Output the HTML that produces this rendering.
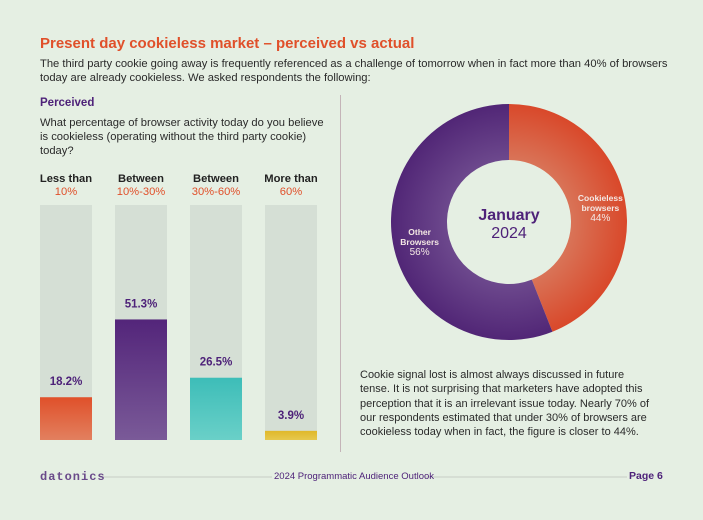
<!DOCTYPE html>
<html><head><meta charset="utf-8"><style>
body{margin:0;width:703px;height:520px;background:#e5efe3;font-family:"Liberation Sans",sans-serif;position:relative;overflow:hidden}
.a{position:absolute}
</style></head><body>
<div class="a" style="left:40px;top:35px;font-size:15px;font-weight:bold;color:#e0502a">Present day cookieless market – perceived vs actual</div>
<div class="a" style="left:40px;top:57px;width:640px;font-size:11.2px;line-height:14px;color:#2a2a2a">The third party cookie going away is frequently referenced as a challenge of tomorrow when in fact more than 40% of browsers<br>today are already cookieless. We asked respondents the following:</div>
<div class="a" style="left:40px;top:97px;font-size:11.5px;font-weight:bold;color:#4e2279">Perceived</div>
<div class="a" style="left:40px;top:116px;width:290px;font-size:11.2px;line-height:14px;color:#2a2a2a">What percentage of browser activity today do you believe is cookieless (operating without the third party cookie) today?</div>
<div class="a" style="left:340px;top:95px;width:1px;height:357px;background:#c4b4b8"></div>
<svg class="a" style="left:0;top:0" width="703" height="520" id="chart">
<defs>
<linearGradient id="g0" x1="0" y1="0" x2="0" y2="1"><stop offset="0" stop-color="#e0502a"/><stop offset="1" stop-color="#e2805f"/></linearGradient>
<linearGradient id="g1" x1="0" y1="0" x2="0" y2="1"><stop offset="0" stop-color="#53257a"/><stop offset="1" stop-color="#7a5a98"/></linearGradient>
<linearGradient id="g2" x1="0" y1="0" x2="0" y2="1"><stop offset="0" stop-color="#3dbdb8"/><stop offset="1" stop-color="#6ad0c8"/></linearGradient>
<linearGradient id="g3" x1="0" y1="0" x2="0" y2="1"><stop offset="0" stop-color="#e0b82a"/><stop offset="1" stop-color="#e6c84e"/></linearGradient>
<radialGradient id="rO" cx="509" cy="222" r="118" gradientUnits="userSpaceOnUse"><stop offset="0.5" stop-color="#d9765a"/><stop offset="1" stop-color="#d9482a"/></radialGradient>
<radialGradient id="rP" cx="509" cy="222" r="118" gradientUnits="userSpaceOnUse"><stop offset="0.5" stop-color="#6e4a8e"/><stop offset="1" stop-color="#512676"/></radialGradient>
</defs>
<g id="bars"></g><g id="donut"></g>
<line x1="100" y1="477" x2="272" y2="477" stroke="#c8ccc6"/><line x1="425" y1="477" x2="627" y2="477" stroke="#c8ccc6"/>
</svg>
<div class="a" style="left:360px;top:368px;width:320px;white-space:nowrap;font-size:11px;line-height:14.3px;color:#2a2a2a">Cookie signal lost is almost always discussed in future<br>tense. It is not surprising that marketers have adopted this<br>perception that it is an irrelevant issue today. Nearly 70% of<br>our respondents estimated that under 30% of browsers are<br>cookieless today when in fact, the figure is closer to 44%.</div>
<div class="a" style="left:40px;top:470px;font-size:12px;font-weight:bold;color:#6a4a8a;letter-spacing:1px;font-family:'Liberation Mono',monospace">datonics</div>
<div class="a" style="left:274px;top:471px;font-size:9.5px;color:#4e2279">2024 Programmatic Audience Outlook</div>
<div class="a" style="left:629px;top:470px;font-size:10.5px;font-weight:bold;color:#4e2279">Page 6</div>
<script>
const categories=[["Less than","10%"],["Between","10%-30%"],["Between","30%-60%"],["More than","60%"]];
const values=[18.2,51.3,26.5,3.9];
const valueLabels=["18.2%","51.3%","26.5%","3.9%"];
const donutLabels=[["Cookieless","browsers"],["Other","Browsers"]];
const donutValues=[44,56];
const NS="http://www.w3.org/2000/svg";
function mk(t,a,p){const e=document.createElementNS(NS,t);for(const k in a)e.setAttribute(k,a[k]);p.appendChild(e);return e;}
const top0=205,bot=440,bw=52;
const y=v=>bot-(v/100)*(bot-top0);
const xb=i=>40+i*75;
const bars=document.getElementById('bars');
values.forEach((v,i)=>{
 const bg=mk('rect',{x:xb(i),y:top0,width:bw,height:bot-top0,fill:'#d5dfd5'},bars);
 
 
 const r=mk('rect',{x:xb(i),y:y(v),width:bw,height:bot-y(v),fill:'url(#g'+i+')'},bars);
 
 
 const t=mk('text',{x:xb(i)+bw/2,y:y(v)-12,'text-anchor':'middle','font-size':'11.5','font-weight':'bold',fill:'#4e2279'},bars);
 t.textContent=valueLabels[i];
 
 
 const c1=mk('text',{x:xb(i)+bw/2,y:182,'text-anchor':'middle','font-size':'11.2','font-weight':'bold',fill:'#222'},bars);
 c1.textContent=categories[i][0];
 
 
 const c2=mk('text',{x:xb(i)+bw/2,y:195,'text-anchor':'middle','font-size':'11.2',fill:'#e0502a'},bars);
 c2.textContent=categories[i][1];
 
 
});
const cx=509,cy=222,R=118,r0=62,d=document.getElementById('donut');
const tot=donutValues.reduce((a,b)=>a+b,0);let ang=-Math.PI/2;
const fills=['url(#rO)','url(#rP)'];
donutValues.forEach((v,i)=>{
 const a2=ang+v/tot*2*Math.PI,lg=(a2-ang)>Math.PI?1:0;
 const P=(rr,a)=>[cx+rr*Math.cos(a),cy+rr*Math.sin(a)];
 const [x1,y1]=P(R,ang),[x2,y2]=P(R,a2),[x3,y3]=P(r0,a2),[x4,y4]=P(r0,ang);
 const p=mk('path',{d:`M${x1},${y1}A${R},${R} 0 ${lg} 1 ${x2},${y2}L${x3},${y3}A${r0},${r0} 0 ${lg} 0 ${x4},${y4}Z`,fill:fills[i]},d);
 
 
 const m=(ang+a2)/2,[lx,ly]=P(92,m);
 const lab=donutLabels[i].concat([v+'%']);
 lab.forEach((s,j)=>{
  const t=mk('text',{x:lx+1,y:ly-4+j*10,'text-anchor':'middle','font-size':j<2?'8.5':'10','font-weight':j<2?'bold':'normal',fill:'#f4e8e4'},d);
  t.textContent=s;
  
  
 });
 ang=a2;
});
const c1=mk('text',{x:cx,y:220,'text-anchor':'middle','font-size':'16','font-weight':'bold',fill:'#4e2279'},d);c1.textContent='January';


const c2=mk('text',{x:cx,y:238,'text-anchor':'middle','font-size':'16',fill:'#4e2279'},d);c2.textContent='2024';


</script>
</body></html>
